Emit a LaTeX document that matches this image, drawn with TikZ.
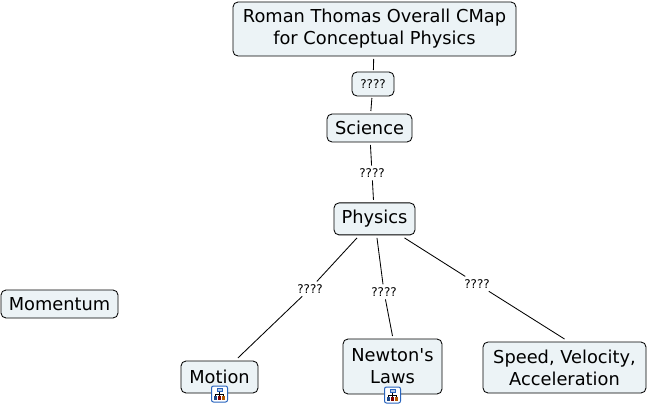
\documentclass[tikz,border=0pt]{standalone}
\usepackage{xcolor}
\usepackage{fontspec}
\setmainfont{DejaVu Sans}[Ligatures=TeXOff]
\usepackage{tikz}
\usetikzlibrary{positioning}
\definecolor{conceptbg}{RGB}{236,243,246}
\definecolor{iconblue}{RGB}{40,100,190}
\tikzset{
  concept/.style={rectangle, draw=black, fill=conceptbg, align=center, rounded corners=5pt,
    font=\fontsize{17.8}{22}\selectfont, inner sep=0pt, outer sep=3pt, line width=0.85pt},
  linkword/.style={fill=white, font=\fontsize{12}{14}\selectfont, inner sep=2pt, outer sep=1pt},
  linkbox/.style={rectangle, draw=black, fill=conceptbg, rounded corners=5pt,
    font=\fontsize{12}{14}\selectfont, inner sep=0pt, outer sep=2pt, line width=0.85pt,
    minimum width=42pt, minimum height=24pt},
  link/.style={draw=black, line width=0.85pt},
  mapicon/.style={rectangle, draw=iconblue, fill=white, rounded corners=2pt, line width=1pt,
    minimum width=16pt, minimum height=16pt, inner sep=0pt},
}

\begin{document}
\begin{tikzpicture}[x=1pt, y=-1pt]
\useasboundingbox (0,0) rectangle (648,406);

% ── Top: title → Science → Physics ──
\node[concept, minimum width=283pt, minimum height=54pt] (title) at (374.5,29) {Roman Thomas Overall CMap\\for Conceptual Physics};
\node[linkbox, below=11pt of title, xshift=-1.5pt] (boxlabel) {????};
\node[concept, below=13pt of boxlabel, xshift=-3.5pt, minimum width=85pt, minimum height=28pt] (science) {Science};
\node[linkword, below=20.5pt of science, xshift=2.5pt] (physlabel) {????};
\node[concept, below=19.5pt of physlabel, xshift=2.5pt, minimum width=81pt, minimum height=32pt] (physics) {Physics};

% ── Bottom row ──
\node[linkword, below=43.5pt of physics, xshift=-64.5pt] (motionlabel) {????};
\node[linkword, below=46.5pt of physics, xshift=9.5pt] (newtonlabel) {????};
\node[linkword, below=38.5pt of physics, xshift=102.5pt] (speedlabel) {????};
\node[concept, minimum width=77pt, minimum height=32pt] (motion) at (219.5,377) {Motion};
\node[concept, right=79pt of motion, yshift=10.5pt, minimum width=99pt, minimum height=55pt] (newton) {Newton's\\Laws};
\node[concept, right=35pt of newton, yshift=-1pt, minimum width=163pt, minimum height=51pt] (speed) {Speed, Velocity,\\Acceleration};
\node[concept, minimum width=117pt, minimum height=28pt] (momentum) at (59.5,304) {Momentum};

% ── Map icons ──
\foreach \owner/\iconname in {motion/motionicon, newton/newtonicon} {
  \node[mapicon] (\iconname) at ([yshift=2pt]\owner.south) {};
  \draw[iconblue, fill=iconblue!35, line width=0.6pt] ([xshift=-2.5pt, yshift=6pt]\iconname.center) rectangle ([xshift=2.5pt, yshift=2.5pt]\iconname.center);
  \draw[black, line width=0.5pt] ([yshift=2.5pt]\iconname.center) -- ([yshift=0pt]\iconname.center)
    ([xshift=-4pt, yshift=-2pt]\iconname.center) |- ([xshift=4pt, yshift=0pt]\iconname.center) -- ([xshift=4pt, yshift=-2pt]\iconname.center)
    ([yshift=0pt]\iconname.center) -- ([yshift=-2pt]\iconname.center);
  \fill[iconblue!70!black] ([xshift=-5.5pt, yshift=-2pt]\iconname.center) rectangle ([xshift=-2.5pt, yshift=-5.5pt]\iconname.center);
  \fill[red!50!black] ([xshift=-1.5pt, yshift=-2pt]\iconname.center) rectangle ([xshift=1.5pt, yshift=-5.5pt]\iconname.center);
  \fill[orange!70!black] ([xshift=2.5pt, yshift=-2pt]\iconname.center) rectangle ([xshift=5.5pt, yshift=-5.5pt]\iconname.center);
}

% ── Connectors ──
\draw[link] (title) -- (boxlabel);
\draw[link] (boxlabel) -- (science);
\draw[link] (science) -- (physlabel);
\draw[link] (physlabel) -- (physics);
\draw[link] (physics) -- (motionlabel);
\draw[link] (motionlabel) -- (motion.46);
\draw[link] (physics) -- (newtonlabel);
\draw[link] (newtonlabel) -- (newton.north);
\draw[link] (physics) -- (speedlabel);
\draw[link] (speedlabel) -- (speed.north);

\end{tikzpicture}
\end{document}
